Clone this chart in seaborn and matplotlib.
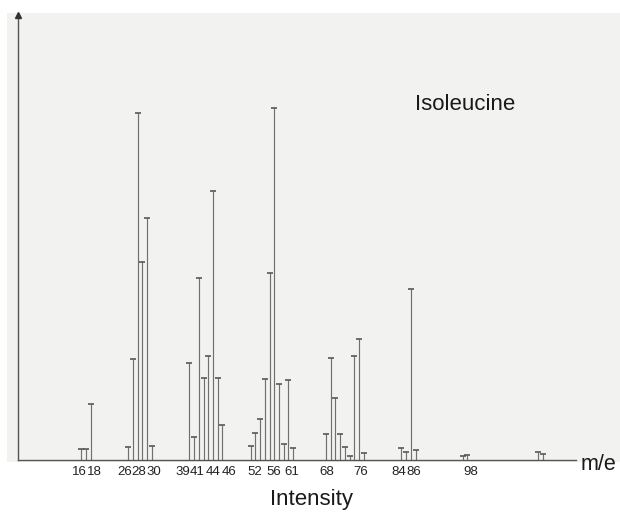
import matplotlib
matplotlib.use("Agg")
import matplotlib.pyplot as plt
from matplotlib.patches import Rectangle
from matplotlib.transforms import ScaledTranslation
import seaborn as sns
import pandas as pd

# m/e values of the drawn peaks and their relative intensities (tallest = 100)
mass = [16, 17, 18,
        26, 27, 28, 29, 30, 31,
        39, 40, 41, 42, 43, 44, 45, 46,
        52, 53, 54, 55, 56, 57, 58, 59, 60, 61,
        68, 69, 70, 71, 72, 73, 74, 75, 76,
        84, 85, 86, 87,
        97, 98,
        113, 114]
intensity = [3.1, 3.1, 15.9,
             3.7, 28.7, 98.6, 56.3, 68.8, 4.0,
             27.6, 6.5, 51.7, 23.3, 29.5, 76.4, 23.3, 9.9,
             4.0, 7.7, 11.6, 23.0, 53.1, 100.0, 21.6, 4.5, 22.7, 3.4,
             7.4, 29.0, 17.6, 7.4, 3.7, 1.1, 29.5, 34.4, 2.0,
             3.4, 2.3, 48.6, 2.8,
             1.0, 1.4,
             2.3, 1.8]
tick_values = [16, 18, 26, 28, 30, 39, 41, 44, 46, 52, 56, 61, 68, 76, 84, 86, 98]
tick_labels = [str(v) for v in tick_values]
title_text = "Isoleucine"
x_label = "m/e"
y_label = "Intensity"

# hand-lettered label shifts (pixels) relative to the tick position
label_shift_px = [-2, 3.5, -4, 1.5, 6.5, -7, -1.5, 0, 6.5, 4.5, 4, -1.5, 1, -3, -2.5, 3, 3.5]

df = pd.DataFrame({"mz": mass, "intensity": intensity})

sns.set_theme(style="white")
plt.rcParams["font.family"] = ["Liberation Sans", "DejaVu Sans"]

W, H = 620, 512
fig = plt.figure(figsize=(W / 100, H / 100), dpi=100)
fig.patch.set_facecolor("white")

# scanned paper background
fig.patches.append(Rectangle((7 / W, 50 / H), 613 / W, 449 / H,
                             transform=fig.transFigure, facecolor="#f2f2f0",
                             edgecolor="none", zorder=-1))

ax = fig.add_axes([18 / W, 52 / H, (W - 18) / W, (497 - 52) / H])
ax.set_facecolor("none")

ax.vlines(df["mz"], 0, df["intensity"], color="#707070", linewidth=0.85, zorder=2)
sns.scatterplot(data=df, x="mz", y="intensity", marker="_", s=14,
                color="#4a4a4a", linewidth=1.1, ax=ax, zorder=3, legend=False)

ax.set_xlim(2.6, 130.4)
ax.set_ylim(0, 126.4)

for side in ["top", "right"]:
    ax.spines[side].set_visible(False)
ax.spines["left"].set_color("#555555")
ax.spines["left"].set_linewidth(1.0)
ax.spines["bottom"].set_color("#555555")
ax.spines["bottom"].set_linewidth(1.0)
ax.spines["bottom"].set_bounds(2.6, 121.0)

# arrow head on the intensity axis
ax.plot([2.6], [126.4], marker="^", markersize=5, color="#333333",
        clip_on=False, zorder=4)

ax.set_xticks(tick_values)
ax.set_xticklabels(tick_labels, fontsize=9.5, color="#222222")
ax.set_yticks([])
ax.tick_params(axis="x", length=0, pad=4.5)
ax.set_xlabel("")
ax.set_ylabel("")

for lab, dx in zip(ax.get_xticklabels(), label_shift_px):
    lab.set_transform(lab.get_transform() +
                      ScaledTranslation(dx / 100, 0, fig.dpi_scale_trans))

fig.text(415 / W, (H - 105) / H, title_text, fontsize=16, color="#1a1a1a",
         ha="left", va="center")
fig.text(581 / W, (H - 465) / H, x_label, fontsize=15.5, color="#1a1a1a",
         ha="left", va="center")
fig.text(311 / W, (H - 499) / H, y_label, fontsize=16, color="#1a1a1a",
         ha="center", va="center")

fig.savefig("out.png", dpi=100, facecolor=fig.get_facecolor())
